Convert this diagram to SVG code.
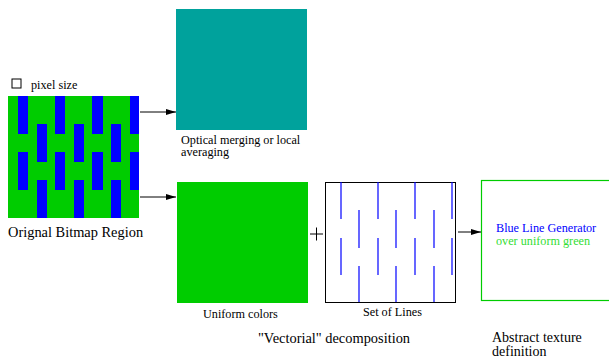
<svg xmlns="http://www.w3.org/2000/svg" width="609" height="358" viewBox="0 0 609 358">
<defs>
<style>
.s11{font-size:12.2px}
.s13{font-size:14.4px}
.s14{font-size:14px}
.bar{fill:#0000ff}
.ln{stroke:#0000ff;stroke-width:1.2}
.conn{stroke:#000;stroke-width:1;fill:none;marker-end:url(#ah)}
</style>
<marker id="ah" viewBox="0 0 10 6" refX="10" refY="3" markerWidth="10" markerHeight="6" markerUnits="userSpaceOnUse" orient="auto">
<path d="M0,0 L10,3 L0,6 Z" fill="#000"/>
</marker>
</defs>
<rect width="609" height="358" fill="#fff"/>

<g font-family="Liberation Serif, Times New Roman, DejaVu Serif, serif">
<g id="bitmap">
<rect x="12" y="79" width="9" height="9" fill="none" stroke="#000" stroke-width="1"/>
<text class="s11" x="31" y="89">pixel size</text>
<rect x="8" y="96" width="131" height="122" fill="#00cc00"/>
<rect class="bar" x="18" y="96" width="10" height="38"/>
<rect class="bar" x="18" y="152" width="10" height="38"/>
<rect class="bar" x="55" y="96" width="10" height="38"/>
<rect class="bar" x="55" y="152" width="10" height="38"/>
<rect class="bar" x="92" y="96" width="11" height="38"/>
<rect class="bar" x="92" y="152" width="11" height="38"/>
<rect class="bar" x="130" y="96" width="9" height="38"/>
<rect class="bar" x="130" y="152" width="9" height="38"/>
<rect class="bar" x="37" y="124" width="10" height="38"/>
<rect class="bar" x="37" y="180" width="10" height="38"/>
<rect class="bar" x="74" y="124" width="10" height="38"/>
<rect class="bar" x="74" y="180" width="10" height="38"/>
<rect class="bar" x="111" y="124" width="10" height="38"/>
<rect class="bar" x="111" y="180" width="10" height="38"/>
<text class="s13" x="8" y="237">Orignal Bitmap Region</text>
</g>

<g id="optical">
<rect x="176" y="9" width="131" height="121" fill="#00a29c"/>
<text class="s11" x="181" y="143.5">Optical merging or local</text>
<text class="s11" x="181" y="156">averaging</text>
</g>

<g id="uniform">
<rect x="177" y="182" width="131" height="121" fill="#00cc00"/>
<text class="s11" x="203" y="318">Uniform colors</text>
</g>

<g id="plus">
<path d="M310,234 H323 M316.5,227.5 V240.5" stroke="#000" stroke-width="1" fill="none"/>
</g>

<g id="lines">
<rect x="325.5" y="182.5" width="130" height="120" fill="#fff" stroke="#000" stroke-width="1"/>
<line class="ln" x1="341" y1="182" x2="341" y2="219"/>
<line class="ln" x1="341" y1="238" x2="341" y2="275"/>
<line class="ln" x1="378" y1="182" x2="378" y2="219"/>
<line class="ln" x1="378" y1="238" x2="378" y2="275"/>
<line class="ln" x1="415" y1="182" x2="415" y2="219"/>
<line class="ln" x1="415" y1="238" x2="415" y2="275"/>
<line class="ln" x1="452" y1="182" x2="452" y2="219"/>
<line class="ln" x1="452" y1="238" x2="452" y2="275"/>
<line class="ln" x1="359" y1="210" x2="359" y2="248"/>
<line class="ln" x1="359" y1="266" x2="359" y2="302"/>
<line class="ln" x1="396" y1="210" x2="396" y2="248"/>
<line class="ln" x1="396" y1="266" x2="396" y2="302"/>
<line class="ln" x1="434" y1="210" x2="434" y2="248"/>
<line class="ln" x1="434" y1="266" x2="434" y2="302"/>
<text class="s11" x="363" y="316">Set of Lines</text>
</g>

<g id="abstract">
<rect x="481.5" y="180.5" width="135" height="120" fill="#fff" stroke="#00cc00" stroke-width="1.2"/>
<text class="s11" x="496" y="232" fill="#0000ff">Blue Line Generator</text>
<text class="s11" x="496" y="245" fill="#33dd33">over uniform green</text>
</g>

<g id="captions">
<text class="s13" x="258" y="343">"Vectorial" decomposition</text>
<text class="s14" x="492" y="342">Abstract texture</text>
<text class="s14" x="492" y="355.5">definition</text>
</g>
</g>

<g id="connectors">
<line class="conn" x1="140" y1="112" x2="176" y2="112"/>
<line class="conn" x1="140" y1="197" x2="176" y2="197"/>
<line class="conn" x1="458" y1="232" x2="481" y2="232"/>
</g>
</svg>
